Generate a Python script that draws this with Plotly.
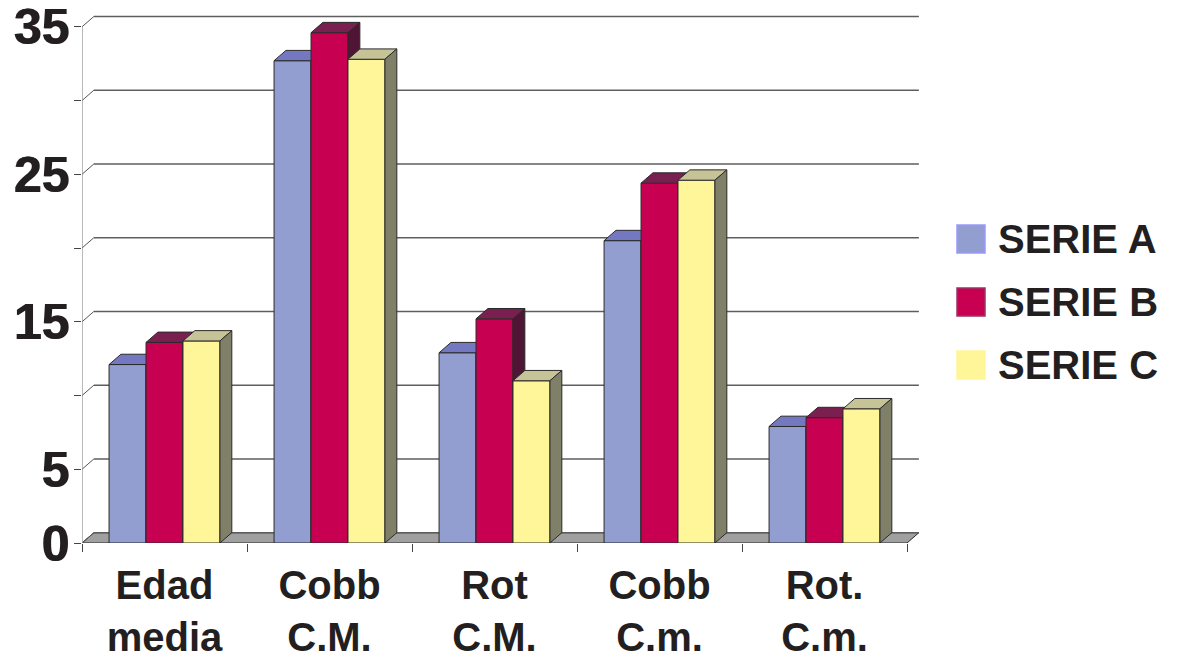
import plotly.graph_objects as go

# ---- data -------------------------------------------------------------
categories = ["Edad<br>media", "Cobb<br>C.M.", "Rot<br>C.M.", "Cobb<br>C.m.", "Rot.<br>C.m."]
series_names = ["SERIE A", "SERIE B", "SERIE C"]
serie_a = [12.1, 32.7, 12.9, 20.5, 7.9]
serie_b = [13.6, 34.6, 15.2, 24.4, 8.5]
serie_c = [13.7, 32.8, 11.0, 24.6, 9.1]
y_tick_values = [0, 5, 10, 15, 20, 25, 30, 35]
y_tick_labels = ["0", "5", "", "15", "", "25", "", "35"]

# ---- style --------------------------------------------------------------
FRONT = ["#929ECF", "#C80052", "#FFF599"]
TOP = ["#7478C0", "#7A2050", "#C6C496"]
SIDE = ["#4A4E8A", "#501434", "#808068"]
EDGE = "#2b2b2b"
TEXT = "#231f20"
FONT = "Liberation Sans, Arial, sans-serif"

BAR_W = 0.224          # width of one bar (category units)
DX, DY = 0.072, 0.70   # projected depth of the 3-D boxes (x units, y units)
Y_MAX = 35.8
X_MIN, X_MAX = -0.5, 4.609

# plot box in pixels (used for legend placement)
L, R, T, B = 82, 252, 15, 121
W_FIG, H_FIG = 1177, 664
PW, PH = W_FIG - L - R, H_FIG - T - B


def px(xp):
    return (xp - L) / PW


def py(yp):
    return (H_FIG - B - yp) / PH


fig = go.Figure()
xs = list(range(len(categories)))
all_series = [serie_a, serie_b, serie_c]

for s, (name, vals) in enumerate(zip(series_names, all_series)):
    xa = "x" if s == 0 else f"x{s + 1}"
    ya = "y" if s == 0 else f"y{s + 1}"
    off = (s - 1.5) * BAR_W
    fig.add_trace(go.Bar(
        x=xs, y=vals, width=BAR_W, offset=off, name=name,
        marker=dict(color=FRONT[s], line=dict(color=EDGE, width=1)),
        xaxis=xa, yaxis=ya, showlegend=False,
    ))
    top_x, top_y, side_x, side_y = [], [], [], []
    for i, v in zip(xs, vals):
        x0 = i + off
        x1 = x0 + BAR_W
        top_x += [x0, x1, x1 + DX, x0 + DX, x0, None]
        top_y += [v, v, v + DY, v + DY, v, None]
        side_x += [x1, x1 + DX, x1 + DX, x1, x1, None]
        side_y += [0, DY, v + DY, v, 0, None]
    fig.add_trace(go.Scatter(
        x=top_x, y=top_y, mode="lines", fill="toself", fillcolor=TOP[s],
        line=dict(color=EDGE, width=1), xaxis=xa, yaxis=ya,
        showlegend=False, hoverinfo="skip",
    ))
    fig.add_trace(go.Scatter(
        x=side_x, y=side_y, mode="lines", fill="toself", fillcolor=SIDE[s],
        line=dict(color=EDGE, width=1), xaxis=xa, yaxis=ya,
        showlegend=False, hoverinfo="skip",
    ))

shapes = []
# floor
shapes.append(dict(
    type="path", xref="x", yref="y", layer="below",
    path=f"M {X_MIN},0 L {len(categories) - 0.5},0 L {len(categories) - 0.5 + DX},{DY} "
         f"L {X_MIN + DX},{DY} Z",
    fillcolor="#A0A0A0", line=dict(color=EDGE, width=1),
))
# back-wall gridlines and left-wall edges
for v in y_tick_values:
    shapes.append(dict(type="line", xref="x", yref="y", layer="below",
                       x0=X_MIN + DX, x1=len(categories) - 0.5 + DX, y0=v + DY, y1=v + DY,
                       line=dict(color="#5e5e5e", width=1.6)))
    shapes.append(dict(type="line", xref="x", yref="y", layer="below",
                       x0=X_MIN, x1=X_MIN + DX, y0=v, y1=v + DY,
                       line=dict(color="#555555", width=1)))
# value axis line
shapes.append(dict(type="line", xref="x", yref="y", layer="below",
                   x0=X_MIN, x1=X_MIN, y0=0, y1=y_tick_values[-1],
                   line=dict(color="#8a8a8a", width=1.2)))

# legend
LEG_BORDER = ["#9999FF", "#993366", "#FFF599"]
annotations = []
for s, name in enumerate(series_names):
    cy = 239 + 63 * s
    shapes.append(dict(type="rect", xref="paper", yref="paper",
                       x0=px(957), x1=px(985), y0=py(cy + 14), y1=py(cy - 14),
                       fillcolor=FRONT[s], line=dict(color=LEG_BORDER[s], width=1.5)))
    annotations.append(dict(xref="paper", yref="paper", x=px(996), y=py(cy),
                            xanchor="left", yanchor="middle", showarrow=False,
                            text=name, font=dict(family=FONT, size=40, color=TEXT,
                                                 weight="bold")))

fig.update_layout(
    width=W_FIG, height=H_FIG,
    margin=dict(l=L, r=R, t=T, b=B, pad=0),
    paper_bgcolor="white", plot_bgcolor="white",
    showlegend=False, barmode="overlay",
    shapes=shapes, annotations=annotations,
    xaxis=dict(
        range=[X_MIN, X_MAX], tickvals=xs, ticktext=categories, ticks="",
        showgrid=False, zeroline=False, showline=False, automargin=False,
        ticklabelstandoff=15, ticklabeloverflow="allow",
        tickfont=dict(family=FONT, size=40, color=TEXT, weight="bold"),
        minor=dict(tickvals=[i - 0.5 for i in range(len(categories) + 1)],
                   ticks="outside", ticklen=8, tickcolor="#444", tickwidth=1,
                   showgrid=False),
    ),
    yaxis=dict(
        range=[0, Y_MAX], tickvals=y_tick_values, ticktext=y_tick_labels,
        ticks="outside", ticklen=7, tickcolor="#444", tickwidth=1,
        showgrid=False, zeroline=False, showline=False, automargin=False,
        ticklabelstandoff=-5, ticklabeloverflow="allow",
        tickfont=dict(family=FONT, size=50, color=TEXT, weight="bold",
                      shadow=f"1px 0px 0px {TEXT}"),
    ),
    xaxis2=dict(overlaying="x", matches="x", range=[X_MIN, X_MAX], visible=False),
    yaxis2=dict(overlaying="y", matches="y", range=[0, Y_MAX], visible=False),
    xaxis3=dict(overlaying="x", matches="x", range=[X_MIN, X_MAX], visible=False),
    yaxis3=dict(overlaying="y", matches="y", range=[0, Y_MAX], visible=False),
)

fig.write_html("out.html")
